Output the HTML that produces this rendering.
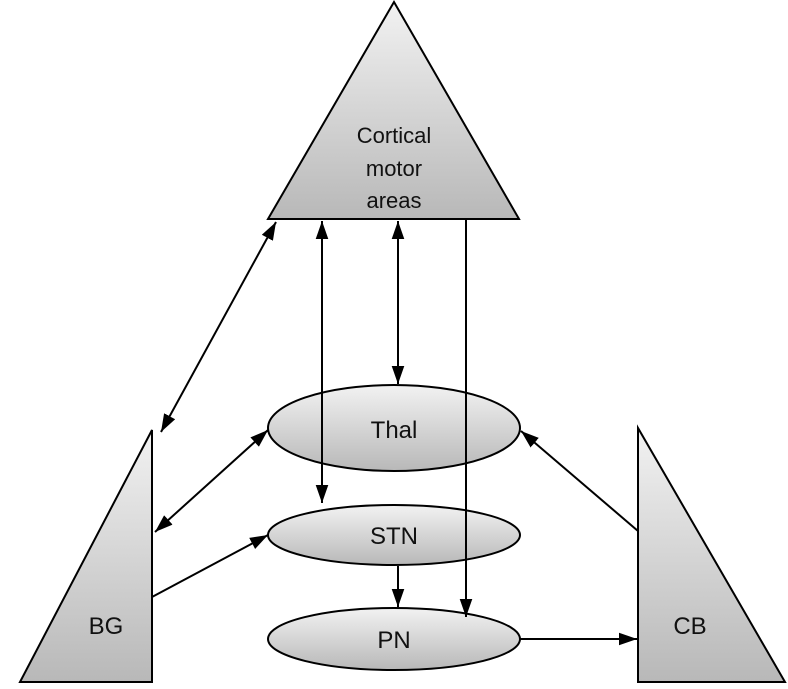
<!DOCTYPE html>
<html><head><style>body{margin:0;background:#fff}svg{display:block}</style></head>
<body>
<svg width="788" height="689" viewBox="0 0 788 689" xmlns="http://www.w3.org/2000/svg" font-family="'Liberation Sans', 'DejaVu Sans', sans-serif">
<defs>
<linearGradient id="g" x1="0" y1="0" x2="0" y2="1"><stop offset="0" stop-color="#f2f2f2"/><stop offset="1" stop-color="#b8b8b8"/></linearGradient>
<marker id="a" viewBox="0 0 10 10" refX="10" refY="5" markerWidth="9" markerHeight="9" markerUnits="userSpaceOnUse" orient="auto-start-reverse"><path d="M0,0L10,5L0,10z" fill="#000"/></marker>
<marker id="b" viewBox="0 0 10 10" refX="10" refY="5" markerWidth="18" markerHeight="18" markerUnits="userSpaceOnUse" orient="auto-start-reverse"><path d="M0,1.5L10,5L0,8.5z" fill="#000"/></marker>
</defs>
<g stroke="#000" stroke-width="2" fill="url(#g)">
<polygon points="394,2 519,219 268,219"/>
<polygon points="152,430 152,682 20,682"/>
<polygon points="638,428 638,682 785,682"/>
<ellipse cx="394" cy="428" rx="126" ry="43"/>
<ellipse cx="394" cy="535" rx="126" ry="30"/>
<ellipse cx="394" cy="639" rx="126" ry="31"/>
</g>
<g stroke="#000" stroke-width="2" fill="none">
<line x1="276" y1="222" x2="161" y2="432" marker-start="url(#b)" marker-end="url(#b)"/>
<line x1="322" y1="221" x2="322" y2="503" marker-start="url(#b)" marker-end="url(#b)"/>
<line x1="398" y1="221" x2="398" y2="384" marker-start="url(#b)" marker-end="url(#b)"/>
<line x1="466" y1="219" x2="466" y2="617" marker-end="url(#b)"/>
<line x1="268" y1="430" x2="155" y2="532" marker-start="url(#b)" marker-end="url(#b)"/>
<line x1="152" y1="597" x2="268" y2="535" marker-end="url(#b)"/>
<line x1="398" y1="566" x2="398" y2="607" marker-end="url(#b)"/>
<line x1="638" y1="531" x2="521" y2="431" marker-end="url(#b)"/>
<line x1="520" y1="639" x2="637" y2="639" marker-end="url(#b)"/>
</g>
<g font-size="22" text-anchor="middle" fill="#111">
<text x="394" y="143">Cortical</text>
<text x="394" y="176">motor</text>
<text x="394" y="208">areas</text>
<text x="394" y="438" font-size="24">Thal</text>
<text x="394" y="544" font-size="24">STN</text>
<text x="394" y="648" font-size="24">PN</text>
<text x="106" y="634" font-size="24">BG</text>
<text x="690" y="634" font-size="24">CB</text>
</g>
</svg>
</body></html>
